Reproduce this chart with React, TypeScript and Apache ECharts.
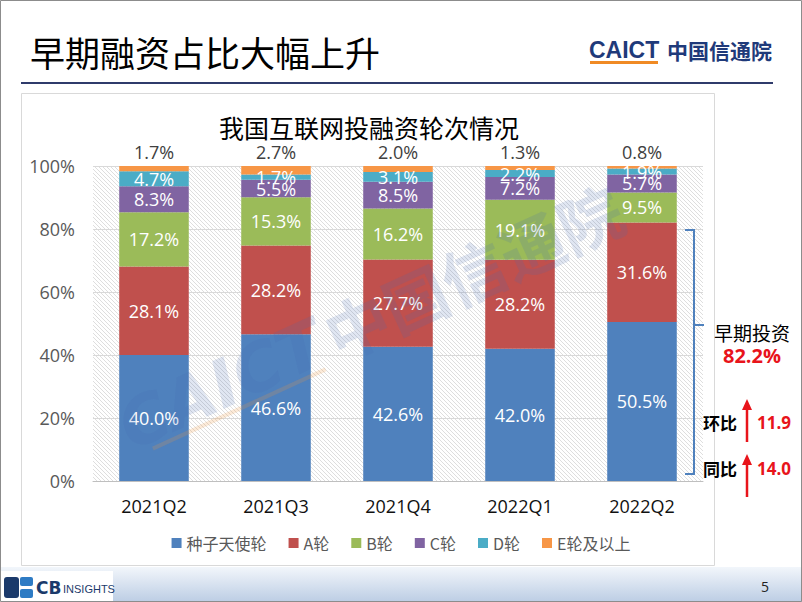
import React, { useEffect, useRef } from "react";
import * as echarts from "echarts";

const categories = ["2021Q2", "2021Q3", "2021Q4", "2022Q1", "2022Q2"];
const seriesNames = ["种子天使轮", "A轮", "B轮", "C轮", "D轮", "E轮及以上"];
const seedAngel = [40.0, 46.6, 42.6, 42.0, 50.5];
const roundA = [28.1, 28.2, 27.7, 28.2, 31.6];
const roundB = [17.2, 15.3, 16.2, 19.1, 9.5];
const roundC = [8.3, 5.5, 8.5, 7.2, 5.7];
const roundD = [4.7, 1.7, 3.1, 2.2, 1.9];
const roundE = [1.7, 2.7, 2.0, 1.3, 0.8];
const yTicks = [0, 20, 40, 60, 80, 100];
const earlyShare = "82.2%";
const qoq = "11.9";
const yoy = "14.0";

const colors = ["#4F81BD", "#C0504D", "#9BBB59", "#8064A2", "#4BACC6", "#F79646"];

function makeHatch(): string {
  const c = document.createElement("canvas");
  c.width = 4;
  c.height = 4;
  const ctx = c.getContext("2d");
  if (ctx) {
    ctx.fillStyle = "#ffffff";
    ctx.fillRect(0, 0, 4, 4);
    ctx.strokeStyle = "#dedede";
    ctx.lineWidth = 1;
    ctx.beginPath();
    ctx.moveTo(-1, -1);
    ctx.lineTo(5, 5);
    ctx.moveTo(-1, 3);
    ctx.lineTo(1, 5);
    ctx.moveTo(3, -1);
    ctx.lineTo(5, 1);
    ctx.stroke();
  }
  return c.toDataURL();
}

export default function App() {
  const ref = useRef<HTMLDivElement>(null);
  useEffect(() => {
    if (!ref.current) return;
    const chart = echarts.init(ref.current, null, { renderer: "svg" });
    const allData = [seedAngel, roundA, roundB, roundC, roundD, roundE];
    const fmt = (p: any) => Number(p.value).toFixed(1) + "%";
    const series: any[] = allData.map((d, i) => ({
      name: seriesNames[i],
      type: "bar",
      stack: "total",
      barWidth: "57%",
      data: d,
      itemStyle: { color: colors[i] },
      label:
        i === 5
          ? { show: true, position: "top", distance: 5, color: "#404040", fontSize: 18, fontFamily: "Open Sans", formatter: fmt }
          : { show: true, position: "inside", color: "#ffffff", fontSize: 18, fontFamily: "Open Sans", formatter: fmt },
    }));

    let hatch: any = "#f4f4f4";
    try {
      hatch = { image: makeHatch(), repeat: "repeat" };
    } catch (e) {
      hatch = "#f4f4f4";
    }

    const red = "#E8141B";
    const option: any = {
      animation: false,
      backgroundColor: "#ffffff",
      grid: { left: 93, right: 99, top: 166, bottom: 121, containLabel: false },
      legend: {
        bottom: 46,
        left: "center",
        icon: "rect",
        itemWidth: 10,
        itemHeight: 10,
        itemGap: 22,
        textStyle: { color: "#595959", fontSize: 16, fontFamily: "Noto Sans CJK SC" },
        data: seriesNames,
      },
      xAxis: {
        type: "category",
        data: categories,
        axisTick: { show: false },
        axisLine: { lineStyle: { color: "#bfbfbf" } },
        axisLabel: { color: "#111111", fontSize: 18, margin: 16, fontFamily: "Open Sans" },
      },
      yAxis: {
        type: "value",
        min: yTicks[0],
        max: yTicks[yTicks.length - 1],
        interval: 20,
        axisLine: { show: false },
        axisTick: { show: false },
        splitLine: { lineStyle: { color: "#d9d9d9" } },
        axisLabel: { color: "#595959", fontSize: 18, margin: 18, fontFamily: "Open Sans", formatter: "{value}%" },
      },
      series,
      graphic: [
        { type: "rect", z: -1, shape: { x: 93, y: 166, width: 610, height: 315 }, style: { fill: hatch } },
        { type: "rect", z: -2, shape: { x: 21.5, y: 93.5, width: 693, height: 472 }, style: { fill: "#ffffff", stroke: "#d9d9d9", lineWidth: 1 } },
        { type: "rect", z: 200, shape: { x: 0.5, y: 0.5, width: 801, height: 601 }, style: { fill: "none", stroke: "#8c8c8c", lineWidth: 1 } },
        // slide title
        { type: "text", z: 100, x: 30, y: 51, style: { text: "早期融资占比大幅上升", fontSize: 35, fill: "#000000", fontFamily: "Noto Sans CJK SC", verticalAlign: "middle" } },
        // CAICT logo
        { type: "text", z: 100, x: 589, y: 50, style: { text: "CAICT", fontSize: 23, fontWeight: "bold", fill: "#1F3A7A", fontFamily: "Liberation Sans", verticalAlign: "middle", textAlign: "left" } },
        { type: "rect", z: 100, shape: { x: 590, y: 61, width: 68, height: 3 }, style: { fill: "#F08A24" } },
        { type: "text", z: 100, x: 667, y: 50, style: { text: "中国信通院", fontSize: 21, fontWeight: "bold", fill: "#1F3A7A", fontFamily: "Noto Sans CJK SC", verticalAlign: "middle", textAlign: "left" } },
        { type: "line", z: 100, shape: { x1: 21, y1: 83, x2: 773, y2: 83 }, style: { stroke: "#2F3B6B", lineWidth: 2 } },
        // chart title
        { type: "text", z: 100, x: 369, y: 127, style: { text: "我国互联网投融资轮次情况", fontSize: 25, fill: "#000000", fontFamily: "Noto Sans CJK SC", textAlign: "center", verticalAlign: "middle" } },
        // watermark
        {
          type: "group",
          z: 50,
          x: 368,
          y: 318,
          rotation: 0.43,
          children: [
            { type: "text", z: 50, x: -270, y: 0, style: { text: "CAICT", fontSize: 66, fontWeight: "bold", fontStyle: "italic", fill: "rgba(70,105,175,0.17)", fontFamily: "DejaVu Sans", textAlign: "left", verticalAlign: "middle" } },
            { type: "rect", z: 50, shape: { x: -250, y: 27, width: 190, height: 4 }, style: { fill: "rgba(240,150,60,0.2)" } },
            { type: "text", z: 50, x: -45, y: 0, style: { text: "中国信通院", fontSize: 64, fontWeight: "bold", fill: "rgba(70,105,175,0.17)", fontFamily: "Noto Sans CJK SC", textAlign: "left", verticalAlign: "middle" } },
          ],
        },
        // bracket
        { type: "polyline", z: 100, shape: { points: [[685, 230], [694, 230], [694, 474], [685, 474]] }, style: { stroke: "#4F81BD", lineWidth: 2, fill: "none" } },
        { type: "line", z: 100, shape: { x1: 694, y1: 325, x2: 704, y2: 325 }, style: { stroke: "#4F81BD", lineWidth: 2 } },
        { type: "text", z: 100, x: 752, y: 332, style: { text: "早期投资", fontSize: 19, fill: "#000000", fontFamily: "Noto Sans CJK SC", textAlign: "center", verticalAlign: "middle" } },
        { type: "text", z: 100, x: 752, y: 355, style: { text: earlyShare, fontSize: 20, fontWeight: "bold", fill: red, fontFamily: "Open Sans", textAlign: "center", verticalAlign: "middle" } },
        // 环比
        { type: "text", z: 100, x: 720, y: 422, style: { text: "环比", fontSize: 17, fontWeight: "bold", fill: "#000000", fontFamily: "Noto Sans CJK SC", textAlign: "center", verticalAlign: "middle" } },
        { type: "line", z: 100, shape: { x1: 747, y1: 442, x2: 747, y2: 408 }, style: { stroke: red, lineWidth: 2.5 } },
        { type: "polygon", z: 100, shape: { points: [[742, 410], [752, 410], [747, 399]] }, style: { fill: red } },
        { type: "text", z: 100, x: 774, y: 422, style: { text: qoq, fontSize: 17, fontWeight: "bold", fill: red, fontFamily: "Open Sans", textAlign: "center", verticalAlign: "middle" } },
        // 同比
        { type: "text", z: 100, x: 720, y: 468, style: { text: "同比", fontSize: 17, fontWeight: "bold", fill: "#000000", fontFamily: "Noto Sans CJK SC", textAlign: "center", verticalAlign: "middle" } },
        { type: "line", z: 100, shape: { x1: 747, y1: 497, x2: 747, y2: 463 }, style: { stroke: red, lineWidth: 2.5 } },
        { type: "polygon", z: 100, shape: { points: [[742, 465], [752, 465], [747, 454]] }, style: { fill: red } },
        { type: "text", z: 100, x: 774, y: 468, style: { text: yoy, fontSize: 17, fontWeight: "bold", fill: red, fontFamily: "Open Sans", textAlign: "center", verticalAlign: "middle" } },
        // bottom band
        {
          type: "rect",
          z: 90,
          shape: { x: 0, y: 567, width: 802, height: 35 },
          style: {
            fill: new echarts.graphic.LinearGradient(0, 0, 0, 1, [
              { offset: 0, color: "#f2f6fb" },
              { offset: 1, color: "#bccde4" },
            ]),
          },
        },
        { type: "rect", z: 95, shape: { x: 0, y: 571, width: 113, height: 31 }, style: { fill: "#ffffff" } },
        { type: "rect", z: 96, shape: { x: 4, y: 577, width: 15, height: 21, r: 3 }, style: { fill: "#1B3A6B" } },
        { type: "rect", z: 96, shape: { x: 20, y: 577, width: 13, height: 9, r: 2 }, style: { fill: "#2E7BC4" } },
        { type: "rect", z: 96, shape: { x: 20, y: 589, width: 13, height: 9, r: 2 }, style: { fill: "#2E7BC4" } },
        { type: "text", z: 96, x: 36, y: 588, style: { text: "CB", fontSize: 17, fontWeight: "bold", fill: "#1B3A6B", fontFamily: "DejaVu Sans", verticalAlign: "middle" } },
        { type: "text", z: 96, x: 63, y: 589, style: { text: "INSIGHTS", fontSize: 11, fill: "#1B3A6B", fontFamily: "Liberation Sans", verticalAlign: "middle" } },
        { type: "text", z: 96, x: 765, y: 586, style: { text: "5", fontSize: 14, fill: "#222222", fontFamily: "Open Sans", textAlign: "center", verticalAlign: "middle" } },
      ],
    };
    chart.setOption(option);
    return () => chart.dispose();
  }, []);
  return (
    <div
      ref={ref}
      style={{ position: "fixed", left: 0, top: 0, width: 802, height: 602 }}
    />
  );
}
